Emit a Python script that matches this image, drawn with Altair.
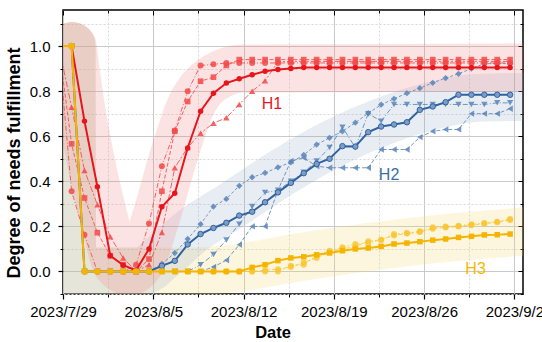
import altair as alt
import pandas as pd

FONT = "Liberation Sans"

# ---------------- data ----------------
# daily observations at 16:00, index k = -1 .. 34  (2023-07-28 16:00 ... 2023-09-01 16:00)
first_obs = "2023-07-28 16:00:00"
n_obs = 36

h1_mean = [None, 1.0, 0.667, 0.376, 0.070, 0.028, 0.005, 0.100, 0.287, 0.347, 0.548, 0.711,
           0.791, 0.836, 0.855, 0.873, 0.888, 0.896, 0.900, 0.905, 0.905, 0.905, 0.905, 0.905,
           0.905, 0.905, 0.905, 0.905, 0.905, 0.905, 0.905, 0.905, 0.905, 0.905, 0.905, 0.905]
h1_circ = [1.0, 0.356, 0.163, 0.0, 0.0, 0.0, 0.030, 0.213, 0.467, 0.625, 0.800, 0.914,
           0.919, 0.925, 0.925, 0.925, 0.925, 0.925, 0.925, 0.925, 0.925, 0.925, 0.925, 0.925,
           0.925, 0.925, 0.925, 0.925, 0.925, 0.925, 0.925, 0.925, 0.925, 0.925, 0.925, 0.925]
h1_sq = [1.0, 0.566, 0.326, 0.172, 0.070, 0.030, 0.0, 0.055, 0.356, 0.622, 0.754, 0.844,
         0.862, 0.914, 0.940, 0.940, 0.940, 0.940, 0.940, 0.940, 0.940, 0.940, 0.940, 0.940,
         0.940, 0.940, 0.940, 0.940, 0.940, 0.940, 0.940, 0.940, 0.940, 0.940, 0.940, 0.940]
h1_tri = [1.0, 0.729, 0.448, 0.296, 0.154, 0.060, 0.0, 0.030, 0.173, 0.460, 0.550, 0.613,
          0.658, 0.682, 0.741, 0.800, 0.846, 0.930, 0.932, 0.932, 0.932, 0.932, 0.932, 0.932,
          0.932, 0.932, 0.932, 0.932, 0.932, 0.932, 0.932, 0.932, 0.932, 0.932, 0.932, 0.932]

h2_mean = [None, 1.0, 0.0, 0.0, 0.0, 0.0, 0.0, 0.0, 0.025, 0.047, 0.120, 0.166,
           0.193, 0.216, 0.248, 0.265, 0.307, 0.351, 0.393, 0.436, 0.477, 0.500, 0.556, 0.554,
           0.618, 0.643, 0.652, 0.662, 0.717, 0.732, 0.751, 0.784, 0.784, 0.784, 0.784, 0.784]
h2_dia = [None, 1.0, 0.0, 0.0, 0.0, 0.0, 0.0, 0.0, 0.033, 0.082, 0.144, 0.210,
          0.288, 0.322, 0.380, 0.418, 0.437, 0.462, 0.484, 0.517, 0.563, 0.593, 0.622, 0.660,
          0.702, 0.740, 0.766, 0.791, 0.813, 0.837, 0.858, 0.877, 0.900, 0.922, 0.922, 0.922]
h2_dn = [None, 1.0, 0.0, 0.0, 0.0, 0.0, 0.0, 0.0, 0.0, 0.0, 0.0, 0.030,
         0.075, 0.140, 0.210, 0.288, 0.350, 0.360, 0.400, 0.440, 0.490, 0.550, 0.640, 0.550,
         0.700, 0.667, 0.741, 0.741, 0.741, 0.741, 0.741, 0.741, 0.741, 0.741, 0.748, 0.748]
h2_lt = [None, 1.0, 0.0, 0.0, 0.0, 0.0, 0.0, 0.0, 0.0, 0.0, 0.0, 0.0,
         0.020, 0.050, 0.119, 0.200, 0.200, 0.360, 0.490, 0.504, 0.467, 0.460, 0.460, 0.460,
         0.460, 0.541, 0.541, 0.541, 0.596, 0.622, 0.630, 0.630, 0.700, 0.700, 0.700, 0.722]

h3_mean = [1.0, 1.0, 0.0, 0.0, 0.0, 0.0, 0.0, 0.0, 0.0, 0.0, 0.0, 0.0,
           0.0, 0.0, 0.0, 0.018, 0.030, 0.048, 0.060, 0.065, 0.074, 0.082, 0.092, 0.100,
           0.104, 0.111, 0.122, 0.126, 0.132, 0.139, 0.144, 0.151, 0.156, 0.162, 0.163, 0.166]
h3_a = [1.0, 1.0, 0.0, 0.0, 0.0, 0.0, 0.0, 0.0, 0.0, 0.0, 0.0, 0.0,
        0.0, 0.0, 0.0, 0.0, 0.0, 0.0, 0.025, 0.030, 0.070, 0.092, 0.107, 0.122,
        0.126, 0.141, 0.166, 0.171, 0.178, 0.196, 0.199, 0.203, 0.210, 0.215, 0.221, 0.233]
h3_b = [1.0, 1.0, 0.0, 0.0, 0.0, 0.0, 0.0, 0.0, 0.0, 0.0, 0.0, 0.0,
        0.0, 0.0, 0.0, 0.0, 0.005, 0.010, 0.020, 0.040, 0.060, 0.086, 0.100, 0.110,
        0.134, 0.140, 0.160, 0.168, 0.175, 0.190, 0.195, 0.200, 0.205, 0.212, 0.218, 0.228]

# shaded ribbons: centre path (days after 2023-07-29 00:00, value)
pink_d = [0.75, 1.2, 2.0, 3.25, 4.2, 5.1, 6.0, 7.1, 8.7, 9.8, 11.5, 14.0, 36.5]
pink_v = [1.0, 0.8, 0.535, 0.22, 0.03, 0.0, 0.04, 0.22, 0.535, 0.72, 0.85, 0.90, 0.905]
blue_d = [0.667, 0.72, 6.0, 8.0, 10.0, 13.0, 17.0, 21.0, 25.0, 29.0, 32.0, 36.5]
blue_v = [1.0, 0.0, 0.0, 0.08, 0.18, 0.29, 0.44, 0.57, 0.67, 0.74, 0.77, 0.775]
yell_d = [0.667, 0.72, 10.0, 14.0, 18.0, 24.0, 30.0, 36.5]
yell_v = [1.0, 0.0, 0.0, 0.02, 0.06, 0.11, 0.15, 0.18]

labels = ["H1", "H2", "H3"]
label_d = [16.2, 25.28, 31.99]
label_v = [0.741, 0.43, 0.01]
label_colors = ["#e8161c", "#3a6ea5", "#f7b800"]

y_major = [0.0, 0.2, 0.4, 0.6, 0.8, 1.0]
y_minor = [-0.1, 0.1, 0.3, 0.5, 0.7, 0.9, 1.1]

for arr in [h1_mean, h1_circ, h1_sq, h1_tri, h2_mean, h2_dia, h2_dn, h2_lt, h3_mean, h3_a, h3_b]:
    assert len(arr) == n_obs, len(arr)

# ---------------- helpers ----------------
base_day = pd.Timestamp("2023-07-29 00:00:00")
obs_dates = pd.date_range(first_obs, periods=n_obs, freq="D").strftime("%Y-%m-%dT%H:%M:%SZ")


def day_to_iso(days):
    return (base_day + pd.to_timedelta(days, unit="D")).strftime("%Y-%m-%dT%H:%M:%SZ")


def dt(m, d, h=0):
    return alt.DateTime(year=2023, month=m, date=d, hours=h, utc=True)


XSCALE = alt.Scale(type="utc", nice=False, domain=[dt(7, 29), dt(9, 2, 16)])
YSCALE = alt.Scale(domain=[-0.1, 1.16], nice=False, zero=False)


def xenc(axis=None):
    if axis is None:
        return alt.X("date:T", scale=XSCALE, axis=None)
    return alt.X("date:T", scale=XSCALE, axis=axis)


def yenc(axis=None):
    if axis is None:
        return alt.Y("value:Q", scale=YSCALE, axis=None)
    return alt.Y("value:Q", scale=YSCALE, axis=axis)


def series_df(vals):
    rows = [(d, v) for d, v in zip(obs_dates, vals) if v is not None]
    return pd.DataFrame(rows, columns=["date", "value"])


layers = []

# ---------------- ribbons ----------------
for dd, vv, col, op in [(yell_d, yell_v, "#f8d56a", 0.22),
                        (blue_d, blue_v, "#8aa5c8", 0.2),
                        (pink_d, pink_v, "#f08080", 0.22)]:
    bdf = pd.DataFrame({"date": day_to_iso(dd), "value": vv})
    layers.append(
        alt.Chart(bdf).mark_line(color=col, opacity=op, strokeWidth=48, strokeCap="round",
                                 strokeJoin="round", interpolate="monotone", clip=True)
        .encode(x=xenc(), y=yenc())
    )

# ---------------- axes ----------------
axis_df = series_df(h1_mean)
x_major_vals = [dt(7, 29), dt(8, 5), dt(8, 12), dt(8, 19), dt(8, 26), dt(9, 2)]
x_minor_vals = [dt(8, 1, 12), dt(8, 8, 12), dt(8, 15, 12), dt(8, 22, 12), dt(8, 29, 12)]

common = dict(domain=False, tickColor="black", labelColor="black", labelFont=FONT,
              titleFont=FONT, titleColor="black")

axA = alt.Chart(axis_df).mark_point(opacity=0).encode(
    x=xenc(alt.Axis(orient="bottom", values=x_major_vals,
                    labelExpr="utcFormat(datum.value, '%Y/%-m/%-d')",
                    tickSize=5, tickWidth=1.2, labelPadding=5, labelFontSize=15, labelFlush=False,
                    labelOverlap=False, grid=True, gridColor="#c9c9c9", gridWidth=1,
                    title="Date", titleFontSize=16.5, titleFontWeight="bold", titlePadding=5,
                    titleX=209.5, **common)),
    y=yenc(alt.Axis(orient="left", values=y_major, format=".1f", tickSize=5, tickWidth=1.2,
                    labelPadding=8, labelFontSize=15, labelFlush=False, labelOverlap=False,
                    grid=True, gridColor="#c9c9c9", gridWidth=1,
                    title="Degree of needs fulfillment", titleFontSize=18,
                    titleFontWeight="bold", titlePadding=6, titleY=152.5, **common)),
)
axB = alt.Chart(axis_df).mark_point(opacity=0).encode(
    x=xenc(alt.Axis(orient="bottom", values=x_minor_vals, labels=False, tickSize=3,
                    grid=True, gridColor="#d9d9d9", gridDash=[2, 2], gridWidth=1, title="",
                    **common)),
    y=yenc(alt.Axis(orient="left", values=y_minor, labels=False, tickSize=3,
                    grid=True, gridColor="#d9d9d9", gridDash=[2, 2], gridWidth=1, title="",
                    **common)),
)
axC = alt.Chart(axis_df).mark_point(opacity=0).encode(
    x=xenc(alt.Axis(orient="top", values=x_major_vals, labels=False, tickSize=5, offset=-5,
                    grid=False, title="", **common)),
    y=yenc(alt.Axis(orient="right", values=y_major, labels=False, tickSize=5, offset=-5,
                    grid=False, title="", **common)),
)
axD = alt.Chart(axis_df).mark_point(opacity=0).encode(
    x=xenc(alt.Axis(orient="top", values=x_minor_vals, labels=False, tickSize=3, offset=-3,
                    grid=False, title="", **common)),
    y=yenc(alt.Axis(orient="right", values=y_minor, labels=False, tickSize=3, offset=-3,
                    grid=False, title="", **common)),
)
layers += [axA, axB, axC, axD]

# ---------------- series ----------------
RED, RED_L = "#e8161c", "#f24a4a"
BLUE, BLUE_L = "#2f62a0", "#5a85b8"
YEL, YEL_L = "#f5b400", "#f9c532"

series = [
    # values, line colour, width, dash, shape, size, opacity, fill, stroke
    (h2_lt, BLUE_L, 1.0, [4, 2], "triangle-left", 40, 0.85, BLUE_L, None),
    (h2_dn, BLUE_L, 1.0, [5, 2, 1, 2], "triangle-down", 40, 0.85, BLUE_L, None),
    (h2_dia, BLUE_L, 1.0, [3, 2], "diamond", 40, 0.85, BLUE_L, None),
    (h2_mean, BLUE, 2.0, None, "circle", 30, 1.0, "#7d9dc6", BLUE),
    (h1_tri, RED_L, 1.0, [6, 2, 2, 2], "triangle-up", 40, 0.85, RED_L, None),
    (h1_sq, RED_L, 1.0, [4, 2], "square", 32, 0.85, RED_L, None),
    (h1_circ, RED_L, 1.0, [5, 2, 1, 2], "circle", 36, 0.85, RED_L, None),
    (h1_mean, RED, 2.0, None, "circle", 30, 1.0, RED, None),
    (h3_b, YEL_L, 1.0, [4, 2], "circle", 36, 0.8, YEL_L, None),
    (h3_a, YEL_L, 1.0, [1.5, 2], "circle", 36, 0.8, YEL_L, None),
    (h3_mean, YEL, 2.0, None, "square", 30, 1.0, YEL, None),
]

for vals, col, w, dash, shape, size, op, fill, stroke in series:
    sdf = series_df(vals)
    lkw = dict(color=col, strokeWidth=w, opacity=op, clip=True)
    if dash is not None:
        lkw["strokeDash"] = dash
    layers.append(alt.Chart(sdf).mark_line(**lkw).encode(x=xenc(), y=yenc()))
    pkw = dict(shape=shape, filled=True, size=size, fill=fill, opacity=op, clip=True)
    if stroke is not None:
        pkw["stroke"] = stroke
        pkw["strokeWidth"] = 1
    layers.append(alt.Chart(sdf).mark_point(**pkw).encode(x=xenc(), y=yenc()))

# ---------------- group labels ----------------
lab_df = pd.DataFrame({"date": day_to_iso(label_d), "value": label_v, "label": labels})
layers.append(
    alt.Chart(lab_df).mark_text(font=FONT, fontSize=16, align="center", baseline="middle")
    .encode(x=xenc(), y=yenc(), text="label:N",
            color=alt.Color("label:N", scale=alt.Scale(domain=labels, range=label_colors),
                            legend=None))
)

chart = (
    alt.layer(*layers)
    .resolve_axis(x="independent", y="independent")
    .properties(width=460, height=284, autosize=alt.AutoSizeParams(type="none"),
                padding={"left": 63, "top": 10, "right": 19, "bottom": 48},
                background="white")
    .configure_view(stroke="black", strokeWidth=1.5)
)

chart.save("out.html", embed_options={"renderer": "svg", "actions": False})
